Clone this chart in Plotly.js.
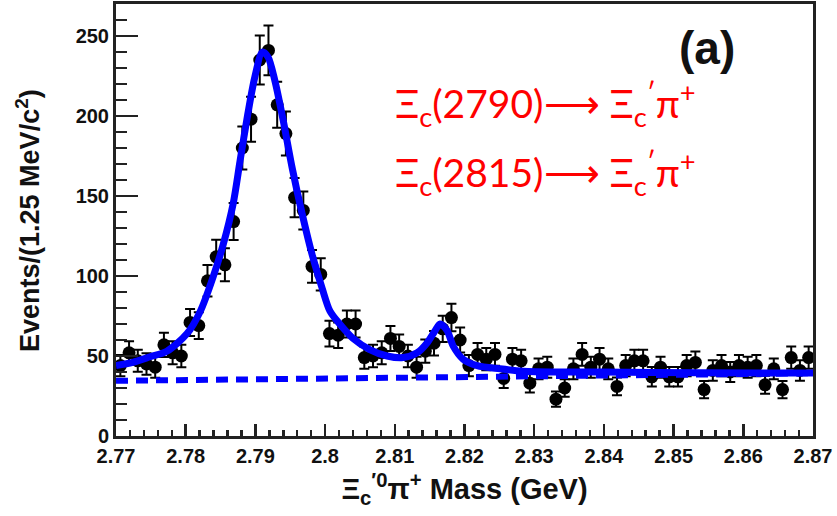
<!DOCTYPE html>
<html>
<head>
<meta charset="utf-8">
<script src="https://cdn.plot.ly/plotly-3.0.1.min.js"></script>
<style>
  html, body { margin: 0; padding: 0; background: #fff; }
  #chart { width: 837px; height: 516px; }
</style>
</head>
<body>
<div id="chart"></div>
<script>
// Histogram: Xi_c'0 pi+ invariant mass, 1.25 MeV bins from 2.77 to 2.87 GeV
const massLow = 2.77;
const binWidth = 0.00125;
const counts = [
  44, 52, 47, 45, 43, 57, 52, 50, 71, 69,
  97, 112, 107, 134, 180, 198, 235, 241, 207, 189,
  149, 141, 106, 101, 64, 63, 70, 70, 49, 50,
  52, 61, 56, 50, 43, 53, 58, 67, 74, 60,
  44, 51, 48, 51, 36, 48, 47, 33, 42, 43,
  23, 30, 42, 51, 43, 48, 42, 31, 44, 47,
  47, 37, 43, 37, 37, 44, 46, 29, 41, 44,
  40, 44, 43, 44, 32, 42, 29, 49, 41, 49
];
const binCenters = counts.map((_, i) => +(massLow + (i + 0.5) * binWidth).toFixed(6));

// Total fit curve (two resonances on a linear background)
const fitMass = [
  2.7700, 2.7724, 2.7749, 2.7773, 2.7802, 2.7821, 2.7839, 2.7854, 2.7868,
  2.7878, 2.7889, 2.7899, 2.7910, 2.7918, 2.7928, 2.7940, 2.7953, 2.7967,
  2.7981, 2.7996, 2.8007, 2.8021, 2.8040, 2.8064, 2.8089, 2.8112, 2.8132,
  2.8146, 2.8158, 2.8165, 2.8175, 2.8184, 2.8198, 2.8218, 2.8251, 2.8284,
  2.8337, 2.8394, 2.8538, 2.8700
];
const fitEvents = [
  44, 46, 49.5, 53, 64, 78, 99, 120, 145,
  172, 201, 224, 240, 237, 222, 197, 167, 139,
  114, 92, 78, 70, 61, 54, 50, 49, 52,
  58, 66, 70, 66, 56, 48, 44, 42, 40.5,
  40, 40, 39.5, 39.3
];

// Background component of the fit
const bkgMass = [2.77, 2.87];
const bkgEvents = [34.5, 39.2];

// Axis tick labels
const xTickVals = [2.77, 2.78, 2.79, 2.80, 2.81, 2.82, 2.83, 2.84, 2.85, 2.86, 2.87];
const xTickText = ['2.77', '2.78', '2.79', '2.8', '2.81', '2.82', '2.83', '2.84', '2.85', '2.86', '2.87'];
const yTickVals = [0, 50, 100, 150, 200, 250];
const yTickText = ['0', '50', '100', '150', '200', '250'];

const boldFamily = 'Liberation Sans, Arial, sans-serif';
const tickFont = { family: boldFamily, size: 20, color: '#111', weight: 'bold' };

const traces = [
  {
    x: binCenters, y: counts,
    type: 'scatter', mode: 'markers',
    marker: { color: '#000', size: 13 },
    error_y: { type: 'sqrt', visible: true, color: '#000', thickness: 2, width: 5 },
    hoverinfo: 'x+y', showlegend: false
  },
  {
    x: bkgMass, y: bkgEvents,
    type: 'scatter', mode: 'lines',
    line: { color: '#0000ff', width: 6, dash: '12px,8px' },
    showlegend: false
  },
  {
    x: fitMass, y: fitEvents,
    type: 'scatter', mode: 'lines',
    line: { color: '#0000ff', width: 7, shape: 'spline', smoothing: 0.8 },
    showlegend: false
  }
];

const layout = {
  width: 837, height: 516,
  margin: { l: 116, r: 24, t: 4, b: 80 },
  paper_bgcolor: '#fff', plot_bgcolor: '#fff',
  showlegend: false,
  xaxis: {
    range: [2.77, 2.87], autorange: false,
    tickmode: 'array', tickvals: xTickVals, ticktext: xTickText,
    ticks: 'inside', ticklen: 12, tickwidth: 2.5, tickcolor: '#222',
    minor: { dtick: 0.002, ticks: 'inside', ticklen: 6, tickwidth: 2.5, tickcolor: '#222', showgrid: false },
    showline: true, linecolor: '#222', linewidth: 3, mirror: true,
    showgrid: false, zeroline: false,
    tickfont: tickFont,
    title: {
      text: 'Ξ<sub>c</sub><sup>′0</sup>π<sup>+</sup> Mass (GeV)',
      font: { family: boldFamily, size: 29, color: '#111', weight: 'bold' },
      standoff: 13
    }
  },
  yaxis: {
    range: [0, 270], autorange: false,
    tickmode: 'array', tickvals: yTickVals, ticktext: yTickText,
    ticks: 'inside', ticklen: 22, tickwidth: 2.5, tickcolor: '#222',
    minor: { dtick: 10, ticks: 'inside', ticklen: 11, tickwidth: 2.5, tickcolor: '#222', showgrid: false },
    showline: true, linecolor: '#222', linewidth: 3, mirror: true,
    showgrid: false, zeroline: false,
    tickfont: tickFont
  },
  annotations: [
    {
      // y-axis title
      xref: 'paper', yref: 'paper', x: -0.1263, y: 0.5,
      xanchor: 'center', yanchor: 'middle', showarrow: false, textangle: -90,
      text: 'Events/(1.25 MeV/c<sup>2</sup>)',
      font: { family: boldFamily, size: 27, color: '#111', weight: 'bold' }
    },
    {
      xref: 'paper', yref: 'paper', x: 0.848, y: 0.897,
      xanchor: 'center', yanchor: 'middle', showarrow: false,
      text: '(a)',
      font: { family: boldFamily, size: 46, color: '#111', weight: 'bold' }
    },
    {
      xref: 'paper', yref: 'paper', x: 0.397, y: 0.768,
      xanchor: 'left', yanchor: 'middle', showarrow: false,
      text: 'Ξ<sub>c</sub>(2790)⟶ Ξ<sub>c</sub><sup>′</sup>π<sup>+</sup>',
      font: { family: 'Lato, Open Sans, sans-serif', size: 39, color: '#ff0000' }
    },
    {
      xref: 'paper', yref: 'paper', x: 0.397, y: 0.608,
      xanchor: 'left', yanchor: 'middle', showarrow: false,
      text: 'Ξ<sub>c</sub>(2815)⟶ Ξ<sub>c</sub><sup>′</sup>π<sup>+</sup>',
      font: { family: 'Lato, Open Sans, sans-serif', size: 39, color: '#ff0000' }
    }
  ]
};

Plotly.newPlot('chart', traces, layout, { staticPlot: true, displayModeBar: false });
</script>
</body>
</html>
